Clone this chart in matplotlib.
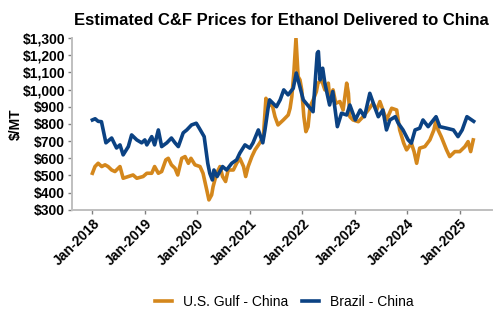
import matplotlib
matplotlib.use("Agg")
import matplotlib.pyplot as plt
import matplotlib.dates as mdates
import matplotlib.ticker as mticker
import pandas as pd

plt.rcParams['font.family'] = ['Liberation Sans', 'DejaVu Sans']

# U.S. Gulf - China C&F price, $/MT
gulf_dates = [
    "2018-01-01", "2018-01-19", "2018-02-10", "2018-03-07", "2018-03-30", "2018-04-20",
    "2018-05-15", "2018-06-07", "2018-07-12", "2018-08-03", "2018-09-08", "2018-10-11",
    "2018-11-06", "2018-12-20", "2019-01-15", "2019-02-18", "2019-03-10", "2019-04-05",
    "2019-04-28", "2019-05-27", "2019-06-13", "2019-07-05", "2019-07-30", "2019-08-18",
    "2019-09-15", "2019-10-08", "2019-10-31", "2019-11-18", "2019-12-16", "2020-01-20",
    "2020-02-10", "2020-03-07", "2020-03-22", "2020-04-10", "2020-04-20", "2020-05-15",
    "2020-06-07", "2020-06-25", "2020-07-16", "2020-08-03", "2020-09-08", "2020-10-01",
    "2020-10-23", "2020-11-18", "2020-12-03", "2020-12-20", "2021-01-15", "2021-02-06",
    "2021-03-10", "2021-04-05", "2021-04-23", "2021-05-08", "2021-06-03", "2021-06-25",
    "2021-07-16", "2021-08-22", "2021-09-25", "2021-10-08", "2021-10-20", "2021-11-03",
    "2021-11-18", "2021-12-03", "2021-12-16", "2021-12-28", "2022-01-12", "2022-01-26",
    "2022-02-10", "2022-02-24", "2022-03-18", "2022-04-09", "2022-04-20", "2022-05-15",
    "2022-06-07", "2022-07-01", "2022-07-12", "2022-08-03", "2022-08-22", "2022-09-20",
    "2022-10-12", "2022-11-06", "2022-11-18", "2022-11-28", "2022-12-20", "2023-01-26",
    "2023-02-28", "2023-04-05", "2023-05-08", "2023-06-03", "2023-06-25", "2023-07-16",
    "2023-08-10", "2023-09-15", "2023-10-20", "2023-11-10", "2023-12-08", "2023-12-28",
    "2024-01-30", "2024-02-18", "2024-03-07", "2024-03-28", "2024-05-03", "2024-06-07",
    "2024-07-05", "2024-07-20", "2024-08-03", "2024-08-25", "2024-10-01", "2024-10-23",
    "2024-11-28", "2025-01-01", "2025-02-06", "2025-02-28", "2025-03-18", "2025-04-05",
]
gulf_values = [
    513, 552, 571, 552, 562, 552,
    532, 523, 552, 484, 494, 503,
    484, 494, 513, 513, 552, 513,
    523, 591, 600, 562, 542, 503,
    600, 610, 571, 600, 562, 552,
    513, 416, 358, 387, 435, 513,
    552, 494, 465, 532, 532, 571,
    600, 552, 494, 552, 610, 649,
    688, 726, 949, 900, 920, 842,
    794, 823, 852, 891, 959, 1095,
    1298, 1075, 1056, 998, 842, 755,
    784, 900, 940, 988, 1037, 1056,
    998, 1037, 940, 998, 920, 930,
    881, 1037, 978, 842, 823, 813,
    842, 881, 920, 881, 930, 881,
    823, 891, 881, 765, 688, 649,
    688, 639, 571, 659, 668, 707,
    765, 823, 765, 726, 649, 610,
    639, 639, 668, 697, 639, 707,
]

# Brazil - China C&F price, $/MT
brazil_dates = [
    "2018-01-01", "2018-01-20", "2018-02-10", "2018-03-05", "2018-04-05", "2018-05-15",
    "2018-06-18", "2018-07-12", "2018-08-03", "2018-09-08", "2018-10-01", "2018-11-06",
    "2018-12-10", "2019-01-01", "2019-01-15", "2019-02-18", "2019-03-10", "2019-04-05",
    "2019-04-28", "2019-06-03", "2019-07-05", "2019-07-30", "2019-08-22", "2019-09-25",
    "2019-10-20", "2019-11-22", "2019-12-25", "2020-01-15", "2020-02-18", "2020-03-14",
    "2020-03-28", "2020-04-15", "2020-04-26", "2020-05-18", "2020-06-25", "2020-07-23",
    "2020-08-28", "2020-10-01", "2020-10-23", "2020-11-28", "2021-01-01", "2021-01-23",
    "2021-03-01", "2021-04-01", "2021-04-16", "2021-05-08", "2021-05-18", "2021-07-05",
    "2021-07-31", "2021-08-25", "2021-09-24", "2021-10-30", "2021-11-20", "2022-01-08",
    "2022-03-17", "2022-03-28", "2022-04-15", "2022-04-23", "2022-05-05", "2022-05-23",
    "2022-06-07", "2022-07-10", "2022-08-01", "2022-09-02", "2022-10-01", "2022-11-06",
    "2022-11-28", "2023-01-05", "2023-02-08", "2023-03-10", "2023-04-16", "2023-05-19",
    "2023-06-14", "2023-07-16", "2023-08-10", "2023-09-03", "2023-10-10", "2023-10-31",
    "2023-12-03", "2024-01-08", "2024-01-30", "2024-02-25", "2024-03-28", "2024-04-20",
    "2024-05-26", "2024-07-20", "2024-08-15", "2024-10-01", "2024-11-18", "2024-12-20",
    "2025-01-18", "2025-02-20", "2025-03-25", "2025-04-08",
]
brazil_values = [
    823, 830, 815, 813, 690, 718,
    660, 678, 620, 668, 736, 707,
    690, 707, 678, 726, 678, 765,
    668, 690, 718, 690, 668, 748,
    765, 794, 804, 775, 726, 571,
    513, 474, 532, 494, 552, 532,
    571, 591, 630, 678, 659, 690,
    765, 690, 765, 893, 940, 900,
    940, 998, 969, 1007, 1096, 940,
    871, 1000, 1211, 1221, 1056, 1124,
    1037, 910, 988, 784, 862, 852,
    910, 823, 881, 842, 978, 900,
    842, 881, 765, 823, 842, 804,
    765, 707, 688, 765, 775, 823,
    784, 842, 784, 775, 765, 726,
    765, 842, 823, 815,
]

series_labels = ["U.S. Gulf - China", "Brazil - China"]
series_colors = ["#D4871C", "#0B4283"]
year_ticks = [f"{y}-01-01" for y in range(2018, 2026)]
y_ticks = list(range(300, 1400, 100))

fig = plt.figure(figsize=(5.0, 3.3), dpi=100)
ax = fig.add_axes([0.144, 0.364, 0.839, 0.521])

ax.plot(pd.to_datetime(gulf_dates), gulf_values, color=series_colors[0],
        lw=2.6, label=series_labels[0], solid_joinstyle="round")
ax.plot(pd.to_datetime(brazil_dates), brazil_values, color=series_colors[1],
        lw=2.6, label=series_labels[1], solid_joinstyle="round")

ax.set_xlim(pd.Timestamp("2017-08-12"), pd.Timestamp("2025-08-10"))
ax.set_ylim(300, 1300)
ax.set_xticks(pd.to_datetime(year_ticks))
ax.xaxis.set_major_formatter(mdates.DateFormatter("%b-%Y"))
ax.set_yticks(y_ticks)
ax.yaxis.set_major_formatter(mticker.FuncFormatter(lambda v, p: f"${v:,.0f}"))

for s in ["top", "right"]:
    ax.spines[s].set_visible(False)
for s in ["left", "bottom"]:
    ax.spines[s].set_color("#BFBFBF")
    ax.spines[s].set_linewidth(1.4)

ax.tick_params(axis="both", length=3, width=1, color="#808080", labelsize=10, pad=2)
for lab in ax.get_yticklabels():
    lab.set_fontweight("bold")
for lab in ax.get_xticklabels():
    lab.set_fontweight("bold")
    lab.set_rotation(45)
    lab.set_ha("right")
    lab.set_rotation_mode("anchor")

ax.set_ylabel("$/MT", fontsize=10, fontweight="bold", labelpad=0)
ax.set_title("Estimated C&F Prices for Ethanol Delivered to China",
             fontsize=12, fontweight="bold", pad=9)

fig.legend(loc="center", bbox_to_anchor=(0.569, 0.085), ncol=2, frameon=False,
           fontsize=10, handlelength=1.2, handletextpad=0.8, columnspacing=1.0)

fig.savefig("out.png", dpi=100)
